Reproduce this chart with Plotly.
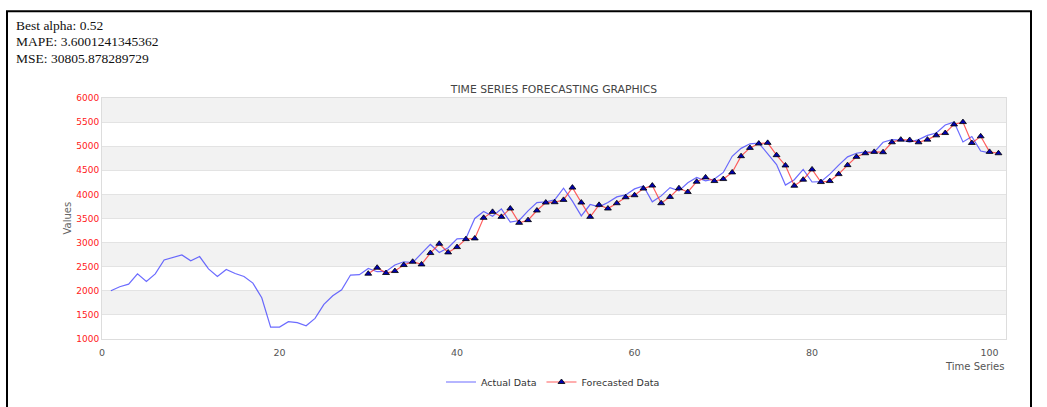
import plotly.graph_objects as go

# ---------------- data ----------------
actual_x = list(range(1, 101))
actual_values = [
    2000, 2083, 2138, 2352, 2193, 2352, 2641, 2697, 2745, 2621,
    2710, 2455, 2297, 2441, 2359, 2297, 2159, 1855, 1248, 1248,
    1359, 1338, 1276, 1428, 1717, 1897, 2021, 2327, 2334, 2465,
    2396, 2403, 2534, 2603, 2583, 2776, 2962, 2796, 2893, 3079,
    3086, 3500, 3645, 3548, 3700, 3424, 3459, 3659, 3831, 3845,
    3886, 4128, 3859, 3555, 3790, 3741, 3831, 3948, 3990, 4114,
    4176, 3845, 3969, 4141, 4072, 4240, 4350, 4280, 4320, 4456,
    4790, 4955, 5050, 5065, 4830, 4620, 4193, 4305, 4518, 4257,
    4265, 4421, 4607, 4779, 4854, 4882, 4878, 5081, 5136, 5129,
    5085, 5136, 5225, 5273, 5440, 5500, 5088, 5200, 4900, 4860,
]
forecast_x = list(range(30, 102))
forecast_values = [
    2355, 2479, 2369, 2410, 2534, 2603, 2548, 2783, 2976, 2796,
    2907, 3072, 3086, 3514, 3638, 3534, 3707, 3410, 3466, 3666,
    3831, 3838, 3886, 4141, 3831, 3534, 3783, 3707, 3817, 3941,
    3983, 4121, 4183, 3817, 3948, 4128, 4050, 4263, 4353, 4277,
    4318, 4456, 4793, 4965, 5055, 5069, 4814, 4600, 4180, 4305,
    4518, 4256, 4277, 4421, 4607, 4779, 4854, 4882, 4875, 5081,
    5136, 5129, 5081, 5136, 5225, 5273, 5452, 5500, 5067, 5205,
    4882, 4854,
]
y_ticks = [1000, 1500, 2000, 2500, 3000, 3500, 4000, 4500, 5000, 5500, 6000]
x_ticks = [0, 20, 40, 60, 80, 100]
stats_lines = ["Best alpha: 0.52", "MAPE: 3.6001241345362", "MSE: 30805.878289729"]
chart_title = "TIME SERIES FORECASTING GRAPHICS"
x_title = "Time Series"
y_title = "Values"
series_names = ["Actual Data", "Forecasted Data"]

# ---------------- layout geometry ----------------
W, H = 1047, 407
L, R, T, B = 102, 41, 98, 67
PW = W - L - R
PH = H - T - B


def px(x):
    return (x - L) / PW


def py(y):
    return (H - B - y) / PH


FONT = "DejaVu Sans"

fig = go.Figure()
fig.add_trace(go.Scatter(
    x=actual_x, y=actual_values, mode="lines", name=series_names[0],
    line=dict(color="rgba(50,50,255,0.72)", width=1.2),
))
fig.add_trace(go.Scatter(
    x=forecast_x, y=forecast_values, mode="lines+markers", name=series_names[1],
    line=dict(color="rgba(255,40,40,0.75)", width=1.2),
    marker=dict(symbol="triangle-up", size=6, color="#0000b0",
                line=dict(color="#000000", width=0.8)),
))

shapes = []
# alternating bands
for i in range(len(y_ticks) - 1):
    if i % 2 == 1:
        shapes.append(dict(type="rect", xref="paper", yref="y", x0=0, x1=1,
                           y0=y_ticks[i], y1=y_ticks[i + 1],
                           fillcolor="#f2f2f2", line=dict(width=0), layer="below"))
# page border
shapes.append(dict(type="rect", xref="paper", yref="paper",
                   x0=px(7), x1=px(1031), y0=py(11), y1=py(430),
                   line=dict(color="black", width=2), fillcolor="rgba(0,0,0,0)",
                   layer="above"))

annotations = []
for k, s in enumerate(stats_lines):
    annotations.append(dict(text=s, xref="paper", yref="paper",
                            x=px(14), y=py(25 + 16.6 * k), xanchor="left", yanchor="middle",
                            showarrow=False,
                            font=dict(family="Liberation Serif", size=13.5, color="#111")))
annotations.append(dict(text=x_title, xref="paper", yref="paper", x=px(1006), y=py(368),
                        xanchor="right", yanchor="middle", showarrow=False,
                        font=dict(family=FONT, size=10, color="#555")))
annotations.append(dict(text=y_title, xref="paper", yref="paper", x=px(67), y=py(219),
                        xanchor="center", yanchor="middle", textangle=-90, showarrow=False,
                        font=dict(family=FONT, size=10, color="#666")))

fig.update_layout(
    width=W, height=H,
    margin=dict(l=L, r=R, t=T, b=B, pad=0),
    paper_bgcolor="white", plot_bgcolor="white",
    title=dict(text=chart_title, x=px(554), xref="paper", xanchor="center",
               y=1 - 89 / H, yanchor="middle",
               font=dict(family=FONT, size=10.8, color="#444")),
    xaxis=dict(range=[0, 101.85], tickvals=x_ticks, showgrid=False, zeroline=False,
               showline=True, linecolor="#dddddd", linewidth=1, mirror=True,
               ticks="outside", ticklen=5, tickcolor="rgba(0,0,0,0)",
               tickfont=dict(family=FONT, size=9.5, color="#555")),
    yaxis=dict(range=[1000, 6000], tickvals=y_ticks, showgrid=True, gridcolor="#e3e3e3",
               gridwidth=1, zeroline=False, showline=True, linecolor="#dddddd",
               linewidth=1, mirror=True, ticks="", ticklabelstandoff=0,
               tickfont=dict(family=FONT, size=9, color="#ff2020")),
    legend=dict(orientation="h", x=px(553), xanchor="center", y=py(382), yanchor="middle",
                font=dict(family=FONT, size=9.5, color="#333"), itemwidth=30,
                bgcolor="rgba(0,0,0,0)"),
    shapes=shapes,
    annotations=annotations,
)

fig.write_html("out.html", config={"displayModeBar": False},
               post_script="document.body.style.margin='0px';")
